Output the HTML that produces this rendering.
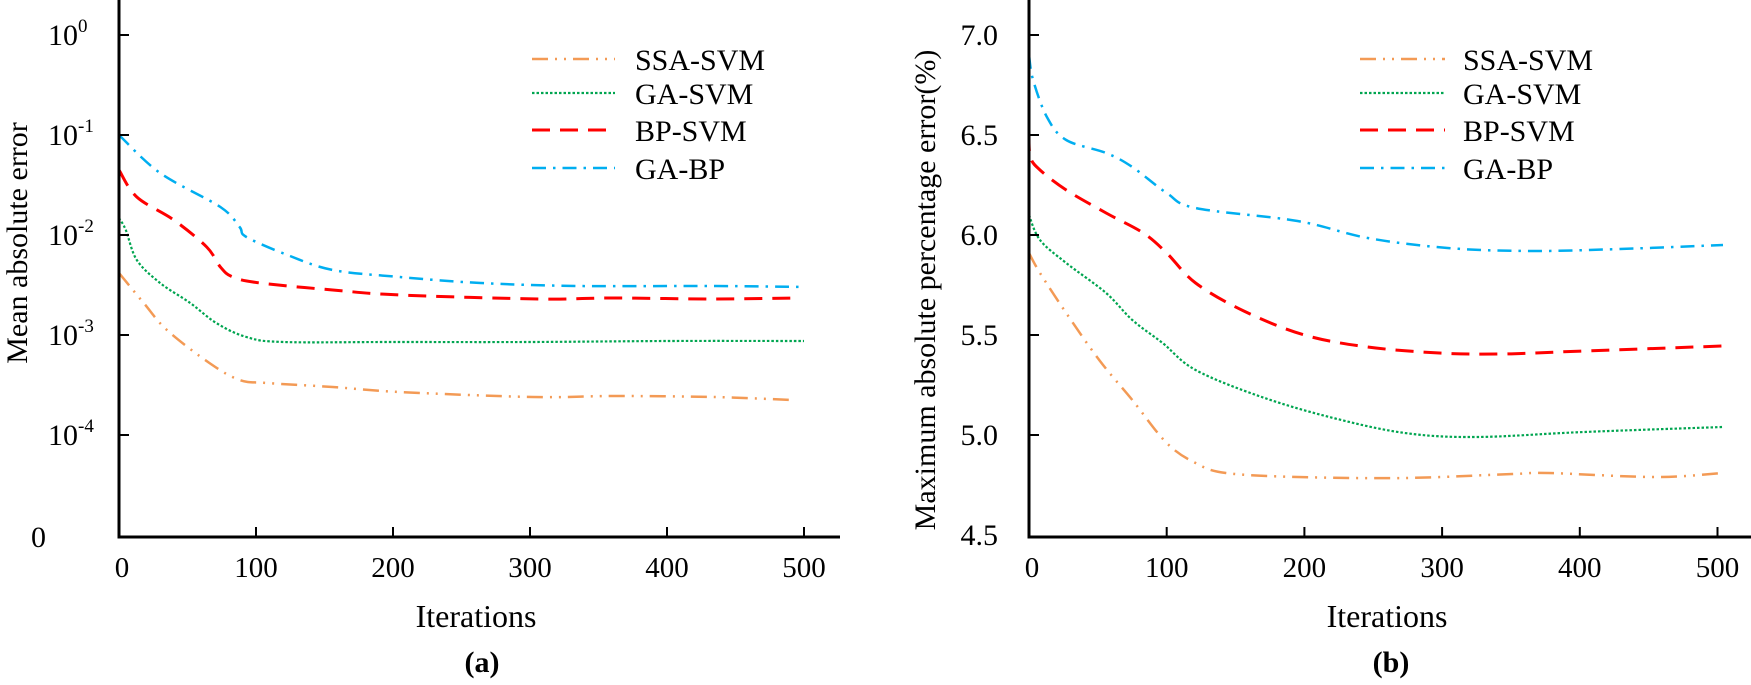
<!DOCTYPE html>
<html><head><meta charset="utf-8"><style>
html,body{margin:0;padding:0;background:#fff;}
svg{display:block;font-family:"Liberation Serif",serif;}
</style></head><body>
<svg id="c" width="1751" height="685" viewBox="0 0 1751 685" xmlns="http://www.w3.org/2000/svg"></svg>
<script>
// ---- data (a): log10(MAE) ----
const seriesNames = ["SSA-SVM","GA-SVM","BP-SVM","GA-BP"];
const aSSAx = [0,18,35,66,88,108,156,205,302,361,434,492];
const aSSAy = [-2.38,-2.68,-2.95,-3.28,-3.45,-3.48,-3.52,-3.57,-3.62,-3.61,-3.62,-3.65];
const aGASx = [0,5,13,30,52,71,93,120,200,300,400,500];
const aGASy = [-1.83,-1.95,-2.25,-2.48,-2.68,-2.88,-3.02,-3.07,-3.07,-3.07,-3.06,-3.06];
const aBPSx = [0,13,40,64,74,83,103,156,205,307,360,434,493];
const aBPSy = [-1.35,-1.62,-1.85,-2.12,-2.32,-2.42,-2.48,-2.55,-2.6,-2.64,-2.63,-2.64,-2.63];
const aGABx = [0,30,74,88,93,123,156,205,264,336,434,500];
const aGABy = [-1.0,-1.38,-1.72,-1.92,-2.02,-2.2,-2.35,-2.42,-2.48,-2.51,-2.51,-2.52];
// ---- data (b): MAPE % ----
const bSSAx = [0,8,27,51,75,100,121,143,195,273,351,377,455,504];
const bSSAy = [5.91,5.81,5.61,5.375,5.175,4.96,4.86,4.81,4.79,4.785,4.805,4.81,4.79,4.81];
const bGASx = [0,8,27,56,75,97,121,169,221,273,325,403,504];
const bGASy = [6.10,5.975,5.86,5.71,5.575,5.46,5.325,5.19,5.085,5.01,4.99,5.015,5.04];
const bBPSx = [0,1,8,27,56,83,100,121,156,200,246,298,343,403,504];
const bBPSy = [6.51,6.39,6.325,6.225,6.11,6.01,5.91,5.76,5.62,5.5,5.44,5.41,5.405,5.42,5.445];
const bGABx = [0,3,13,27,56,75,100,121,195,246,304,364,429,504];
const bGABy = [6.90,6.775,6.59,6.475,6.41,6.34,6.21,6.135,6.07,5.985,5.935,5.92,5.93,5.95];
const xTicks = [0,100,200,300,400,500];
const aYTicks = [-4,-3,-2,-1,0];
const bYTicks = ["4.5","5.0","5.5","6.0","6.5","7.0"];

const NS="http://www.w3.org/2000/svg";
const svg=document.getElementById('c');
function mk(tag,attrs,parent){const e=document.createElementNS(NS,tag);for(const k in attrs)e.setAttribute(k,attrs[k]);(parent||svg).appendChild(e);return e;}

const styles=[
 {c:"#f39a55",d:"16 7 2 7 2 7",w:2.5},
 {c:"#00a550",d:"2.5 2",w:2.2},
 {c:"#ff0000",d:"18 10",w:3},
 {c:"#00aef0",d:"14 7 2.5 7",w:2.5}
];

// axis functions
const axA={x:v=>119+v*1.37, y:v=>35-(v)*100};
const axB={x:v=>1029+v*1.377, y:v=>35+(7.0-v)*200};

function smoothPath(pts){
 let d="M"+pts[0][0]+","+pts[0][1];
 for(let i=0;i<pts.length-1;i++){
  const p0=pts[Math.max(0,i-1)],p1=pts[i],p2=pts[i+1],p3=pts[Math.min(pts.length-1,i+2)];
  const c1x=p1[0]+(p2[0]-p0[0])/6,c1y=p1[1]+(p2[1]-p0[1])/6;
  const c2x=p2[0]-(p3[0]-p1[0])/6,c2y=p2[1]-(p3[1]-p1[1])/6;
  d+=" C"+c1x.toFixed(1)+","+c1y.toFixed(1)+" "+c2x.toFixed(1)+","+c2y.toFixed(1)+" "+p2[0].toFixed(1)+","+p2[1].toFixed(1);
 }
 return d;
}

function drawChart(ax,xs,ys,tag){
 const g=mk('g',{});
 
 
 for(let s=0;s<4;s++){
  const pts=xs[s].map((v,i)=>[ax.x(v),ax.y(ys[s][i])]);
  const p=mk('path',{d:smoothPath(pts),fill:"none",stroke:styles[s].c,"stroke-width":styles[s].w,"stroke-dasharray":styles[s].d},g);
  
  
 }
}
drawChart(axA,[aSSAx,aGASx,aBPSx,aGABx],[aSSAy,aGASy,aBPSy,aGABy],'a');
drawChart(axB,[bSSAx,bGASx,bBPSx,bGABx],[bSSAy,bGASy,bBPSy,bGABy],'b');

function axes(x0,xEnd,yBottom,tag){
 const y=mk('line',{x1:x0,y1:0,x2:x0,y2:yBottom+1.5,stroke:"#000","stroke-width":3});
 
 
 const x=mk('line',{x1:x0-1.5,y1:yBottom,x2:xEnd,y2:yBottom,stroke:"#000","stroke-width":3});
 
 
}
axes(119,840,537,'a');
axes(1029,1751,537,'b');

// x ticks
[[axA,'a'],[axB,'b']].forEach(([ax,tag])=>{
 xTicks.forEach(v=>{
  const X=ax.x(v);
  if(v>0){const t=mk('line',{x1:X,y1:537,x2:X,y2:527,stroke:"#000","stroke-width":2});
   
   }
  const l=mk('text',{x:X+(v===0?3:0),y:577,"font-size":29,"text-anchor":"middle"});
  l.textContent=v;
  
  
 });
});
// y ticks (a)
aYTicks.forEach(v=>{
 const Y=axA.y(v);
 const t=mk('line',{x1:119,y1:Y,x2:129,y2:Y,stroke:"#000","stroke-width":2});
 
 
 const l=mk('text',{x:48,y:Y+10,"font-size":30});
 l.textContent="10";
 
 
 const sp=mk('tspan',{dy:-13,"font-size":19},l);
 sp.textContent=String(v).replace('-','-');
});
{const l=mk('text',{x:47,y:547,"font-size":30,"text-anchor":"end"});l.setAttribute('x',46);l.textContent="0";
 
 }
// y ticks (b)
bYTicks.forEach(s=>{
 const Y=axB.y(parseFloat(s));
 if(parseFloat(s)>4.5){const t=mk('line',{x1:1029,y1:Y,x2:1039,y2:Y,stroke:"#000","stroke-width":2});
  
  }
 const l=mk('text',{x:998,y:Y+10,"font-size":30,"text-anchor":"end"});
 l.textContent=s;
 
 
});

// titles
function txt(attrs,str,name){const t=mk('text',attrs);t.textContent=str;
 
 return t;}
txt({x:0,y:0,"font-size":30,"text-anchor":"middle",transform:"translate(27,243) rotate(-90)"},"Mean absolute error","y-axis-title-a");
txt({x:0,y:0,"font-size":30,"text-anchor":"middle",transform:"translate(935,290) rotate(-90)"},"Maximum absolute percentage error(%)","y-axis-title-b");
txt({x:476,y:627,"font-size":32,"text-anchor":"middle"},"Iterations","x-axis-title-a");
txt({x:1387,y:627,"font-size":32,"text-anchor":"middle"},"Iterations","x-axis-title-b");
txt({x:482,y:672,"font-size":30,"font-weight":"bold","text-anchor":"middle"},"(a)","panel-label-a");
txt({x:1391,y:672,"font-size":30,"font-weight":"bold","text-anchor":"middle"},"(b)","panel-label-b");

// legends
const legRows=[59,93,130,168];
[[532,615,635,'a'],[1360,1445,1463,'b']].forEach(([x1,x2,tx,tag])=>{
 for(let s=0;s<4;s++){
  const l=mk('line',{x1:x1,y1:legRows[s],x2:x2,y2:legRows[s],stroke:styles[s].c,"stroke-width":styles[s].w,"stroke-dasharray":styles[s].d});
  
  
  txt({x:tx,y:legRows[s]+11,"font-size":30},seriesNames[s],'legend-entry-'+tag);
 }
});
</script>
</body></html>
